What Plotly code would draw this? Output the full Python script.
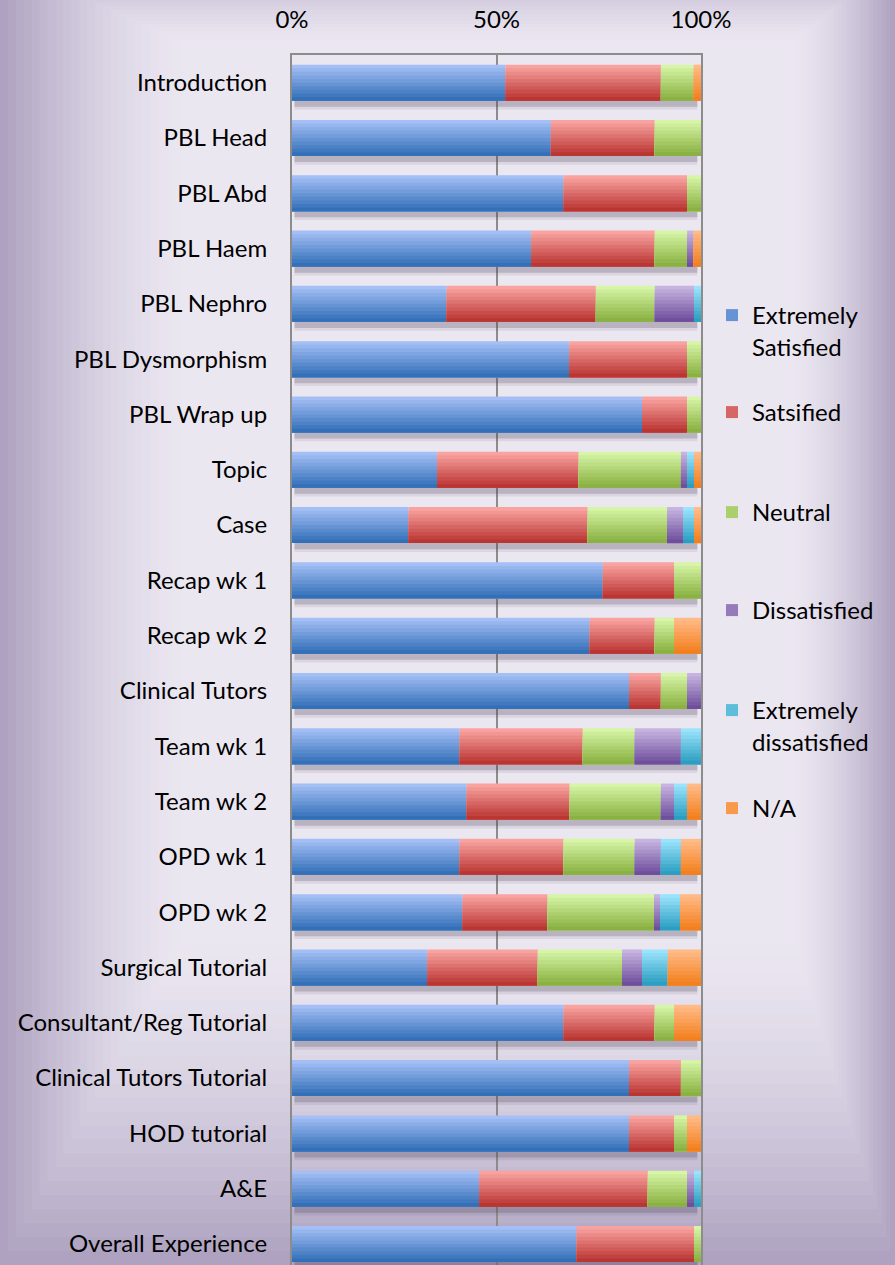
import plotly.graph_objects as go
import numpy as np

categories = ["Introduction", "PBL Head", "PBL Abd", "PBL Haem", "PBL Nephro",
              "PBL Dysmorphism", "PBL Wrap up", "Topic", "Case", "Recap wk 1",
              "Recap wk 2", "Clinical Tutors", "Team wk 1", "Team wk 2", "OPD wk 1",
              "OPD wk 2", "Surgical Tutorial", "Consultant/Reg Tutorial",
              "Clinical Tutors Tutorial", "HOD tutorial", "A&E", "Overall Experience"]

extremely_satisfied = [52.2, 63.3, 66.4, 58.5, 37.8, 67.8, 85.6, 35.5, 28.5, 76.0, 72.8,
                       82.4, 41.0, 42.7, 41.0, 41.7, 33.1, 66.4, 82.4, 82.4, 45.8, 69.6]
satisfied = [38.0, 25.4, 30.2, 30.2, 36.5, 28.8, 11.0, 34.6, 43.8, 17.4, 15.9,
             7.8, 30.1, 25.2, 25.4, 20.8, 27.0, 22.3, 12.7, 11.0, 41.2, 28.7]
neutral = [8.0, 11.3, 3.4, 7.9, 14.4, 3.4, 3.4, 25.0, 19.4, 6.6, 4.7,
           6.4, 12.7, 22.3, 17.4, 26.0, 20.6, 4.7, 4.9, 3.2, 9.6, 1.7]
dissatisfied = [0, 0, 0, 1.6, 9.6, 0, 0, 1.5, 3.9, 0, 0,
                3.4, 11.3, 3.2, 6.4, 1.5, 4.9, 0, 0, 0, 1.7, 0]
extremely_dissatisfied = [0, 0, 0, 0, 1.7, 0, 0, 1.7, 2.7, 0, 0,
                          0, 4.9, 3.2, 4.9, 4.9, 6.3, 0, 0, 0, 1.7, 0]
not_applicable = [1.8, 0, 0, 1.8, 0, 0, 0, 1.7, 1.7, 0, 6.6,
                  0, 0, 3.4, 4.9, 5.1, 8.1, 6.6, 0, 3.4, 0, 0]

series_names = ["Extremely<br>Satisfied", "Satsified", "Neutral", "Dissatisfied",
                "Extremely<br>dissatisfied", "N/A"]
series_values = [extremely_satisfied, satisfied, neutral, dissatisfied,
                 extremely_dissatisfied, not_applicable]
x_tick_vals = [0, 50, 100]
x_tick_text = ["0%", "50%", "100%"]

# gradient colours (top, bottom)
grad = [((163, 191, 245), (52, 112, 184)),
        ((249, 163, 160), (186, 54, 51)),
        ((214, 245, 166), (138, 177, 66)),
        ((198, 179, 224), (111, 79, 156)),
        ((154, 227, 252), (44, 158, 193)),
        ((255, 186, 134), (243, 128, 30))]
legend_top_px = [315, 412, 512, 610, 710, 808]

W, H = 895, 1265
ML, MR, MT, MB = 292, 194, 55, 0
PW, PH = W - ML - MR, H - MT - MB
FONT = "Lato"
FS = 24

def px_x(px):
    return (px - ML) / PW

def px_y(py):
    return (H - MB - py) / PH

def mix(c1, c2, t):
    return "rgb(%d,%d,%d)" % tuple(round(a + (b - a) * t) for a, b in zip(c1, c2))

fig = go.Figure()

BAR_H = 0.651
NL = 10
totals = np.sum(np.array(series_values), axis=0)

# soft shadow beneath each bar
for dy, alpha in [(0.16, 0.10), (0.11, 0.22)]:
    fig.add_trace(go.Bar(y=categories, x=totals - 1.5, base=[0.6] * len(categories),
                         orientation="h", width=BAR_H, offset=-BAR_H / 2 + dy,
                         marker=dict(color="rgba(70,60,80,%.2f)" % alpha, line=dict(width=0)),
                         showlegend=False, hoverinfo="skip"))

starts = np.zeros(len(categories))
for i, (name, vals) in enumerate(zip(series_names, series_values)):
    vals = np.array(vals, dtype=float)
    top, bot = grad[i]
    lg = "legend" if i == 0 else "legend%d" % (i + 1)
    for k in range(NL):
        t = k / (NL - 1)
        fig.add_trace(go.Bar(
            y=categories, x=vals, base=starts, orientation="h",
            width=BAR_H * (1 - k / NL), offset=-BAR_H / 2 + BAR_H * k / NL,
            marker=dict(color=mix(top, bot, t), line=dict(width=0)),
            name=name, legend=lg, showlegend=(k == NL // 2),
            hoverinfo="skip" if k else "x+name"))
    starts = starts + vals

# background glow (nested rectangles, dark edges -> light centre)
outer_col, inner_col = (174, 162, 192), (235, 231, 241)
outer_box = (0, -40, W, H)
inner_box = (190, 45, 790, 930)
NB = 24
shapes = []
for j in range(NB + 1):
    f = j / NB
    x0 = outer_box[0] + (inner_box[0] - outer_box[0]) * f
    y0 = outer_box[1] + (inner_box[1] - outer_box[1]) * f
    x1 = outer_box[2] + (inner_box[2] - outer_box[2]) * f
    y1 = outer_box[3] + (inner_box[3] - outer_box[3]) * f
    tcol = 1 - (1 - f) ** 1.6
    shapes.append(dict(type="rect", xref="paper", yref="paper", layer="below",
                       x0=px_x(x0), x1=px_x(x1), y0=px_y(y1), y1=px_y(y0),
                       fillcolor=mix(outer_col, inner_col, tcol), line=dict(width=0)))

legends = {}
for i, tp in enumerate(legend_top_px):
    key = "legend" if i == 0 else "legend%d" % (i + 1)
    legends[key] = dict(xref="container", yref="container", x=712 / W,
                        y=1 - (tp - 22) / H, xanchor="left", yanchor="top",
                        bgcolor="rgba(0,0,0,0)", valign="top",
                        font=dict(family=FONT, size=FS, color="#000000"))

fig.update_layout(
    width=W, height=H, barmode="overlay",
    margin=dict(l=ML, r=MR, t=MT, b=MB, pad=0, autoexpand=False),
    paper_bgcolor="rgb(174,162,192)", plot_bgcolor="rgba(0,0,0,0)",
    font=dict(family=FONT, size=FS, color="#000000"),
    shapes=shapes,
    xaxis=dict(side="top", range=[0, 100], tickvals=x_tick_vals, ticktext=x_tick_text,
               showgrid=True, gridcolor="#8C8C8C", gridwidth=2,
               showline=True, linecolor="#8C8C8C", linewidth=2, mirror=True,
               ticks="outside", ticklen=15, tickcolor="rgba(0,0,0,0)",
               zeroline=False, fixedrange=True),
    yaxis=dict(type="category", categoryorder="array", categoryarray=categories,
               range=[21.38, -0.5], showgrid=False,
               showline=True, linecolor="#8C8C8C", linewidth=2, mirror=True,
               ticks="outside", ticklen=18, tickcolor="rgba(0,0,0,0)",
               fixedrange=True),
    **legends,
)

fig.write_html("out.html",
               config={"displayModeBar": False},
               post_script="document.body.style.margin='0';"
                           "document.documentElement.style.overflow='hidden';")
